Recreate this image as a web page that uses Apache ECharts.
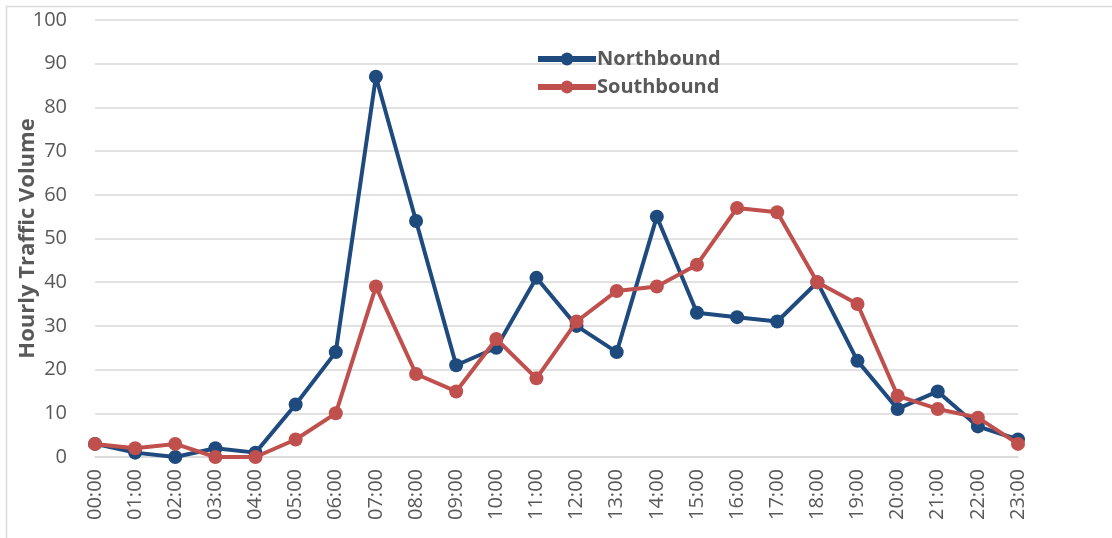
<!DOCTYPE html>
<html>
<head>
<meta charset="utf-8">
<script src="https://cdn.jsdelivr.net/npm/echarts@6/dist/echarts.min.js"></script>
<style>
  html, body { margin: 0; padding: 0; background: #ffffff; }
  #chart { width: 1112px; height: 538px; }
</style>
</head>
<body>
<div id="chart"></div>
<script>
// Hour-of-day categories
const hours = ['00:00','01:00','02:00','03:00','04:00','05:00','06:00','07:00','08:00','09:00','10:00','11:00',
               '12:00','13:00','14:00','15:00','16:00','17:00','18:00','19:00','20:00','21:00','22:00','23:00'];
// Hourly traffic counts per direction
const northbound = [3, 1, 0, 2, 1, 12, 24, 87, 54, 21, 25, 41, 30, 24, 55, 33, 32, 31, 40, 22, 11, 15, 7, 4];
const southbound = [3, 2, 3, 0, 0, 4, 10, 39, 19, 15, 27, 18, 31, 38, 39, 44, 57, 56, 40, 35, 14, 11, 9, 3];
const yAxisTitle = 'Hourly Traffic Volume';

const fontFamily = '"Open Sans", "Liberation Sans", sans-serif';
const textGray = '#595959';
const gridGray = '#d9d9d9';
const navy = '#1f4a7e';
const red = '#c0504d';

const chart = echarts.init(document.getElementById('chart'), null, { renderer: 'canvas' });

chart.setOption({
  animation: false,
  backgroundColor: '#ffffff',
  graphic: [{
    type: 'rect',
    left: 4, top: 4,
    shape: { width: 1130, height: 560 },
    style: { fill: 'none', stroke: gridGray, lineWidth: 1.5 },
    silent: true,
    z: -1
  }],
  grid: { left: 95, right: 94, top: 20, bottom: 81, containLabel: false, outerBoundsMode: 'none' },
  legend: {
    orient: 'vertical',
    left: 530,
    top: 44,
    itemGap: 8,
    itemWidth: 58,
    itemHeight: 16,
    textStyle: { fontFamily, fontSize: 20, fontWeight: 'bold', color: textGray, padding: [0, 0, 0, -4] },
    data: [
      { name: 'Northbound', lineStyle: { width: 6, color: navy }, itemStyle: { color: navy } },
      { name: 'Southbound', lineStyle: { width: 6, color: red }, itemStyle: { color: red } }
    ]
  },
  xAxis: {
    type: 'category',
    data: hours,
    boundaryGap: false,
    axisLine: { show: true, lineStyle: { color: gridGray, width: 1.5 } },
    axisTick: { show: false },
    axisLabel: { rotate: 90, margin: 12, fontFamily, fontSize: 20, color: textGray }
  },
  yAxis: {
    type: 'value',
    min: 0, max: 100, interval: 10,
    name: yAxisTitle,
    nameLocation: 'middle',
    nameGap: 56,
    nameMoveOverlap: false,
    nameTextStyle: { fontFamily, fontSize: 22, fontWeight: 'bold', color: textGray },
    axisLine: { show: false },
    axisTick: { show: false },
    axisLabel: { margin: 28, fontFamily, fontSize: 20, color: textGray },
    splitLine: { lineStyle: { color: gridGray, width: 1.5 } }
  },
  series: [
    {
      name: 'Northbound',
      type: 'line',
      data: northbound,
      symbol: 'circle',
      symbolSize: 14,
      lineStyle: { color: navy, width: 4 },
      itemStyle: { color: navy },
      z: 2
    },
    {
      name: 'Southbound',
      type: 'line',
      data: southbound,
      symbol: 'circle',
      symbolSize: 14,
      lineStyle: { color: red, width: 4 },
      itemStyle: { color: red },
      z: 3
    }
  ]
});
</script>
</body>
</html>
